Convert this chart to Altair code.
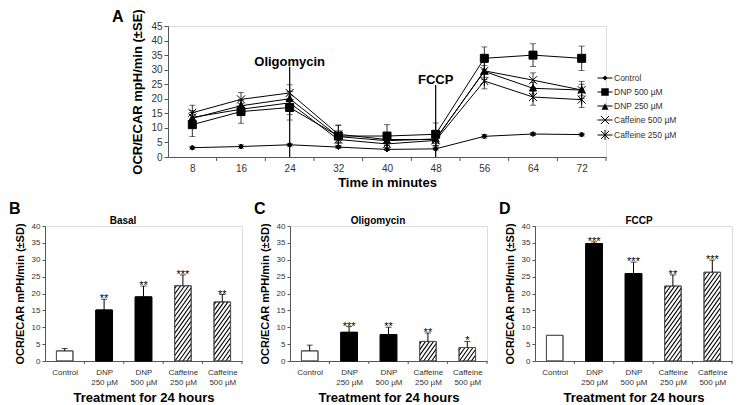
import json
import altair as alt
import pandas as pd

FONT = "Liberation Sans"

# ---------------- Panel A data ----------------
times = [8, 16, 24, 32, 40, 48, 56, 64, 72]
series_names = ["Control", "DNP 500 µM", "DNP 250 µM", "Caffeine 500 µM", "Caffeine 250 µM"]
control = [3.2, 3.6, 4.2, 3.4, 2.6, 2.8, 7.1, 7.9, 7.7]
control_se = [0.5, 0.6, 0.5, 0.5, 0.4, 0.4, 0.6, 0.5, 0.5]
dnp500 = [11.1, 15.6, 17.0, 7.2, 7.2, 7.8, 33.9, 35.0, 33.9]
dnp500_se = [4.1, 4.0, 4.3, 3.6, 3.9, 3.9, 3.9, 3.9, 4.2]
dnp250 = [13.3, 17.6, 20.0, 7.0, 5.6, 6.2, 29.4, 23.6, 23.0]
dnp250_se = [2.0, 2.0, 2.4, 2.0, 1.5, 1.5, 2.0, 2.0, 2.0]
caff500 = [15.2, 19.8, 22.0, 7.8, 6.0, 6.0, 29.6, 26.4, 23.0]
caff500_se = [2.6, 2.4, 2.8, 3.2, 2.0, 2.0, 3.0, 2.5, 3.0]
caff250 = [13.6, 16.4, 18.6, 6.0, 4.5, 5.7, 26.1, 20.6, 19.7]
caff250_se = [2.4, 2.0, 4.0, 2.0, 2.0, 2.0, 2.7, 2.8, 2.7]
annot_x = [24, 48]
annot_top = [31.0, 24.7]
annot_text = ["Oligomycin", "FCCP"]
minor_ticks = [12, 20, 28, 36, 44, 52, 60, 68, 76]

# ---------------- Panels B-D data ----------------
bar_labels = [["Control"], ["DNP", "250 µM"], ["DNP", "500 µM"],
              ["Caffeine", "250 µM"], ["Caffeine", "500 µM"]]
bar_kind = ["control", "dnp", "dnp", "caffeine", "caffeine"]
basal = [3.0, 15.1, 19.0, 22.3, 17.5]
basal_sd = [0.7, 3.2, 3.2, 3.2, 2.2]
basal_sig = ["", "**", "**", "***", "**"]
oligo = [3.0, 8.5, 7.8, 5.8, 4.0]
oligo_sd = [1.7, 1.7, 2.2, 2.5, 1.8]
oligo_sig = ["", "***", "**", "**", "*"]
fccp = [7.6, 34.8, 25.9, 22.2, 26.3]
fccp_sd = [0.0, 0.5, 3.4, 3.3, 3.6]
fccp_sig = ["", "***", "***", "**", "***"]

AXIS_COL = "#555555"
LABEL_COL = "#333333"

# ================= Panel A =================
W_A, H_A = 438, 131
rows = []
for name, vals, errs in zip(series_names,
                            [control, dnp500, dnp250, caff500, caff250],
                            [control_se, dnp500_se, dnp250_se, caff500_se, caff250_se]):
    for t, v, e in zip(times, vals, errs):
        rows.append(dict(series=name, time=t, value=v, lo=v - e, hi=v + e))
line_df = pd.DataFrame(rows)

xs_a = alt.Scale(domain=[4, 76], nice=False, zero=False)
ys_a = alt.Scale(domain=[0, 45], nice=False)
x_axis_a = alt.Axis(values=times, ticks=False, labelPadding=6, grid=False,
                    title="Time in minutes", titleFontSize=13, titleFontWeight="bold",
                    titleColor="black", labelFontSize=10, labelColor=LABEL_COL,
                    domainColor=AXIS_COL, titlePadding=3)
y_axis_a = alt.Axis(values=list(range(0, 46, 5)), grid=False, tickSize=4,
                    title="OCR/ECAR mpH/min (±SE)", titleFontSize=13, titleFontWeight="bold",
                    titleColor="black", labelFontSize=10, labelColor=LABEL_COL,
                    domainColor=AXIS_COL, tickColor=AXIS_COL, titlePadding=6)


def xa(field):
    return alt.X(field, type="quantitative", scale=xs_a, axis=x_axis_a)


def ya(field):
    return alt.Y(field, type="quantitative", scale=ys_a, axis=y_axis_a)


marker_paths = [
    "M0,-0.5L0.5,0L0,0.5L-0.5,0Z",
    "M-0.8,-0.8H0.8V0.8H-0.8Z",
    "M0,-0.75L0.7,0.55H-0.7Z",
    "M-0.8,-0.8L0.8,0.8M-0.8,0.8L0.8,-0.8",
    "M-0.8,-0.8L0.8,0.8M-0.8,0.8L0.8,-0.8M0,-1V1",
]
legend_fill_paths = [
    "M0,-0.33L0.33,0L0,0.33L-0.33,0Z",
    "M-0.5,-0.5H0.5V0.5H-0.5Z",
    "M0,-0.5L0.47,0.37H-0.47Z",
    "M0,0",
    "M0,0",
]
legend_stroke_paths = [
    "M-1,0H1",
    "M-1,0H1",
    "M-1,0H1",
    "M-1,0H1M-0.53,-0.53L0.53,0.53M-0.53,0.53L0.53,-0.53",
    "M-1,0H1M-0.53,-0.53L0.53,0.53M-0.53,0.53L0.53,-0.53M0,-0.67V0.67",
]
LEG_X, LEG_Y = 429, 44


def leg(label_color):
    return alt.Legend(title=None, orient="none", legendX=LEG_X, legendY=LEG_Y,
                      symbolSize=225, symbolStrokeWidth=1, rowPadding=1,
                      labelFontSize=8.5, labelColor=label_color, labelOffset=1,
                      labelFont=FONT, padding=0)


base_a = alt.Chart(line_df)
err_rule = base_a.mark_rule(color="black", strokeWidth=0.8).encode(x=xa("time"), y=ya("lo"), y2="hi")
err_lo = base_a.mark_tick(orient="horizontal", size=6, thickness=0.8, color="black").encode(x=xa("time"), y=ya("lo"))
err_hi = base_a.mark_tick(orient="horizontal", size=6, thickness=0.8, color="black").encode(x=xa("time"), y=ya("hi"))
lines = base_a.mark_line(color="black", strokeWidth=1).encode(x=xa("time"), y=ya("value"), detail="series:N")
points = base_a.mark_point(fill="black", stroke="black", strokeWidth=1, opacity=1, fillOpacity=1, size=100).encode(
    x=xa("time"), y=ya("value"),
    shape=alt.Shape("series:N", scale=alt.Scale(domain=series_names, range=marker_paths), legend=None))
hidden = base_a.transform_calculate(hidden="-20")
legend_fill = hidden.mark_point(filled=True, color="black", size=225, clip=True, opacity=1).encode(
    x=xa("time"), y=ya("hidden:Q"),
    shape=alt.Shape("series:N", scale=alt.Scale(domain=series_names, range=legend_fill_paths),
                    legend=leg("transparent")))
legend_stroke = hidden.mark_point(filled=False, color="black", size=225, clip=True, opacity=1,
                                  strokeWidth=1).encode(
    x=xa("time"), y=ya("hidden:Q"),
    shape=alt.Shape("series:N", scale=alt.Scale(domain=series_names, range=legend_stroke_paths),
                    legend=leg(LABEL_COL)))

annot_df = pd.DataFrame({"x": annot_x, "top": annot_top, "label": annot_text, "base": [0, 0]})
annot_rule = alt.Chart(annot_df).mark_rule(color="black", strokeWidth=1.2).encode(x=xa("x"), y=ya("base"), y2="top")
annot_txt = alt.Chart(annot_df).mark_text(fontSize=13, fontWeight="bold", baseline="alphabetic", dy=-1,
                                          font=FONT, fill="black").encode(x=xa("x"), y=ya("top"), text="label:N")
tick_df = pd.DataFrame({"t": minor_ticks})
minor = alt.Chart(tick_df).mark_rule(color=AXIS_COL, strokeWidth=1).encode(
    x=xa("t"), y=alt.value(H_A), y2=alt.value(H_A + 4))
letter_a = alt.Chart(pd.DataFrame({"l": ["A"]})).mark_text(
    fontSize=16, fontWeight="bold", font=FONT, align="left", baseline="alphabetic", fill="black").encode(
    x=alt.value(-56), y=alt.value(-4), text="l:N")

top = alt.layer(err_rule, err_lo, err_hi, lines, points, legend_fill, legend_stroke, annot_rule, annot_txt,
                minor, letter_a).resolve_scale(shape="independent").properties(width=W_A, height=H_A)

# ================= Panels B-D =================
W_B, H_B = 197, 135
BAR_HALF = 0.21
HATCH_STEP = 4.0     # horizontal spacing of hatch lines (px)
HATCH_SLOPE = 1.4    # rise over run of hatch lines
kinds = ["control", "dnp", "caffeine"]
label_expr = json.dumps(bar_labels, ensure_ascii=False) + "[datum.value - 1]"


def bar_panel(letter, subtitle, sub_x, vals, errs, sig):
    n = len(vals)
    px_x = W_B / n
    px_y = H_B / 40.0
    df = pd.DataFrame({"idx": list(range(1, n + 1)), "value": vals, "err": errs, "sig": sig, "kind": bar_kind})
    df["x0"] = df["idx"] - BAR_HALF
    df["x1"] = df["idx"] + BAR_HALF
    df["hi"] = df["value"] + df["err"]
    df["zero"] = 0.0

    # diagonal hatching for the caffeine bars, laid out in pixel space and mapped back to data units
    hrows = []
    k = HATCH_SLOPE
    for _, r in df[df["kind"] == "caffeine"].iterrows():
        L = (r["x0"] - 0.5) * px_x
        R = (r["x1"] - 0.5) * px_x
        Hb = r["value"] * px_y
        c = L - Hb / k + HATCH_STEP / 2
        while c < R:
            y0 = max(0.0, (L - c) * k)
            y1 = min(Hb, (R - c) * k)
            if y1 > y0:
                hrows.append(dict(hx=(c + y0 / k) / px_x + 0.5, hy=y0 / px_y,
                                  hx2=(c + y1 / k) / px_x + 0.5, hy2=y1 / px_y))
            c += HATCH_STEP
    hatch_df = pd.DataFrame(hrows)

    xs = alt.Scale(domain=[0.5, n + 0.5], nice=False, zero=False)
    ys = alt.Scale(domain=[0, 40], nice=False)
    x_axis = alt.Axis(values=list(range(1, n + 1)), labelExpr=label_expr, ticks=False, grid=False,
                      labelFontSize=8, labelColor=LABEL_COL, labelLineHeight=10, labelPadding=7,
                      labelAngle=0, domainColor=AXIS_COL,
                      title="Treatment for 24 hours", titleFontSize=13, titleFontWeight="bold",
                      titleColor="black", titlePadding=5)
    y_axis = alt.Axis(values=list(range(0, 41, 5)), grid=False, tickSize=3, labelFontSize=8,
                      labelColor=LABEL_COL, domainColor=AXIS_COL, tickColor=AXIS_COL,
                      title="OCR/ECAR mPH/min (±SD)", titleFontSize=11, titleFontWeight="bold",
                      titleColor="black", titlePadding=6)

    def xb(field):
        return alt.X(field, type="quantitative", scale=xs, axis=x_axis)

    def yb(field):
        return alt.Y(field, type="quantitative", scale=ys, axis=y_axis)

    stroke_scale = alt.Scale(domain=kinds, range=["#555555", "black", "#555555"])
    base = alt.Chart(df)
    bars = base.mark_bar(strokeWidth=1).encode(
        x=xb("x0"), x2="x1", y=yb("value"), y2="zero",
        fill=alt.Fill("kind:N", scale=alt.Scale(domain=kinds, range=["white", "black", "white"]), legend=None),
        stroke=alt.Stroke("kind:N", scale=stroke_scale, legend=None))
    hatch = alt.Chart(hatch_df).mark_rule(color="black", strokeWidth=1.1).encode(
        x=xb("hx"), y=yb("hy"), x2="hx2", y2="hy2")
    outline = base.mark_bar(fillOpacity=0, strokeWidth=1).encode(
        x=xb("x0"), x2="x1", y=yb("value"), y2="zero",
        stroke=alt.Stroke("kind:N", scale=stroke_scale, legend=None))
    ebase = base.transform_filter("datum.err > 0")
    erule = ebase.mark_rule(color="black", strokeWidth=1).encode(x=xb("idx"), y=yb("value"), y2="hi")
    ecap = ebase.mark_tick(orient="horizontal", size=6, thickness=1, color="black").encode(
        x=xb("idx"), y=yb("hi"))
    stars = base.mark_text(fontSize=11, baseline="alphabetic", dy=3, font=FONT, fill="black").encode(
        x=xb("idx"), y=yb("hi"), text="sig:N")
    bt = pd.DataFrame({"t": [i + 0.5 for i in range(1, n + 1)]})
    cat_ticks = alt.Chart(bt).mark_rule(color=AXIS_COL).encode(x=xb("t"), y=alt.value(H_B), y2=alt.value(H_B + 3))
    lab = alt.Chart(pd.DataFrame({"l": [letter], "s": [subtitle]}))
    letter_t = lab.mark_text(fontSize=16, fontWeight="bold", font=FONT, align="left", baseline="alphabetic",
                             fill="black").encode(x=alt.value(-36), y=alt.value(-12), text="l:N")
    sub_t = lab.mark_text(fontSize=10, fontWeight="bold", font=FONT, align="center", baseline="alphabetic",
                          fill="black").encode(x=alt.value(sub_x), y=alt.value(-2), text="s:N")
    return alt.layer(bars, hatch, outline, erule, ecap, stars, cat_ticks, letter_t, sub_t).properties(
        width=W_B, height=H_B)


panel_b = bar_panel("B", "Basal", 78, basal, basal_sd, basal_sig)
panel_c = bar_panel("C", "Oligomycin", 88, oligo, oligo_sd, oligo_sig)
panel_d = bar_panel("D", "FCCP", 104, fccp, fccp_sd, fccp_sig)

spacer = alt.Chart(pd.DataFrame({"s": [0]})).mark_point(opacity=0).properties(width=66, height=10)

chart = alt.vconcat(
    alt.hconcat(spacer, top, spacing=0),
    alt.hconcat(panel_b, panel_c, panel_d, spacing=10),
    spacing=10,
    padding=0,
).configure_view(stroke=None).configure(font=FONT)

chart.save("out.html", embed_options={"renderer": "svg", "actions": False})
